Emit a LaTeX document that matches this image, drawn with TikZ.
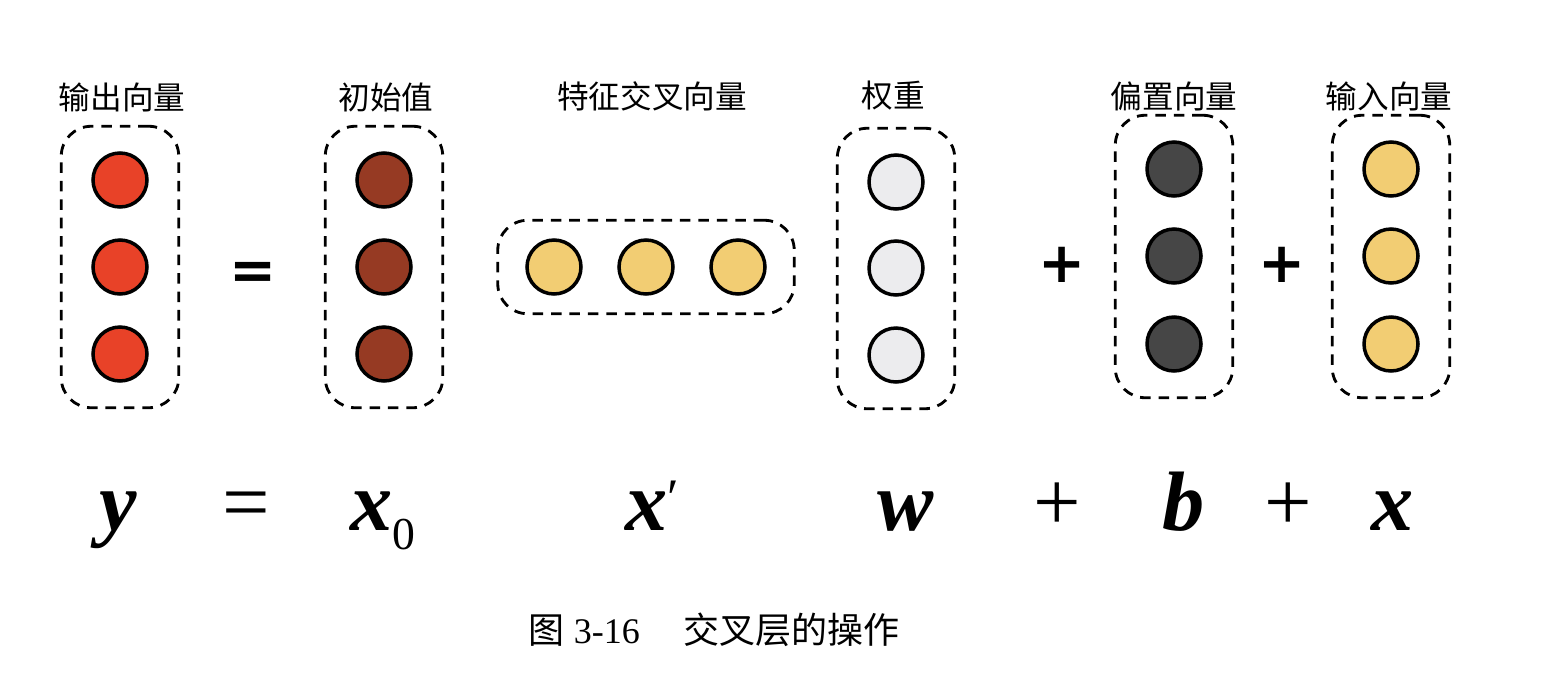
\documentclass[tikz,border=0pt]{standalone}
\usepackage{fontspec}
\setmainfont{Liberation Serif}
\newfontfamily\cjk{Noto Sans CJK SC}
\newfontfamily\opsans{DejaVu Sans}
\usetikzlibrary{positioning,fit}
\definecolor{outRed}{RGB}{232,66,40}
\definecolor{initBrown}{RGB}{150,58,35}
\definecolor{featYellow}{RGB}{242,205,115}
\definecolor{wGray}{RGB}{236,236,238}
\definecolor{biasGray}{RGB}{70,70,70}

\begin{document}
\begin{tikzpicture}[x=0.02cm, y=-0.02cm,
    unit/.style={draw, circle, line width=2pt, minimum size=1.08cm, inner sep=0pt},
    vecbox/.style={draw, dash pattern=on 6pt off 4.5pt, line width=1.6pt, rounded corners=0.6cm, inner xsep=0.6cm, inner ysep=0.5cm},
    rowbox/.style={vecbox, inner xsep=0.55cm, inner ysep=0.36cm},
    lbl/.style={font=\cjk\fontsize{18}{18}\selectfont},
    op/.style={anchor=base, font=\opsans\bfseries\fontsize{32}{32}\selectfont},
    sym/.style={anchor=base, font=\fontsize{48}{48}\selectfont}
]
\useasboundingbox (0,0) rectangle (1558,694);

% Vecteurs (colonnes et ligne)
\node[unit, fill=outRed] (y1) at (120,180) {};
\node[unit, fill=outRed] (y2) at (120,267) {};
\node[unit, fill=outRed] (y3) at (120,354) {};

\node[unit, fill=initBrown] (xz1) at (384,180) {};
\node[unit, fill=initBrown] (xz2) at (384,267) {};
\node[unit, fill=initBrown] (xz3) at (384,354) {};

\node[unit, fill=featYellow] (xp1) at (554,267) {};
\node[unit, fill=featYellow] (xp2) at (646,267) {};
\node[unit, fill=featYellow] (xp3) at (738,267) {};

\node[unit, fill=wGray] (w1) at (896,182) {};
\node[unit, fill=wGray] (w2) at (896,268) {};
\node[unit, fill=wGray] (w3) at (896,355) {};

\node[unit, fill=biasGray] (b1) at (1174,169) {};
\node[unit, fill=biasGray] (b2) at (1174,256) {};
\node[unit, fill=biasGray] (b3) at (1174,344) {};

\node[unit, fill=featYellow] (x1) at (1391,169) {};
\node[unit, fill=featYellow] (x2) at (1391,256) {};
\node[unit, fill=featYellow] (x3) at (1391,344) {};

% Cadres en pointillés
\node[vecbox, fit=(y1)(y3)] (ybox) {};
\node[vecbox, fit=(xz1)(xz3)] (xzbox) {};
\node[rowbox, fit=(xp1)(xp3)] (xpbox) {};
\node[vecbox, fit=(w1)(w3)] (wbox) {};
\node[vecbox, fit=(b1)(b3)] (bbox) {};
\node[vecbox, fit=(x1)(x3)] (xbox) {};

% Titres
\node[lbl] (ylbl) at (122,97) {输出向量};
\node[lbl] (xzlbl) at (386,97) {初始值};
\node[lbl] (xplbl) at (652,96) {特征交叉向量};
\node[lbl] (wlbl) at (893,96) {权重};
\node[lbl] (blbl) at (1174,96) {偏置向量};
\node[lbl] (xlbl) at (1389,96) {输入向量};

% Opérateurs
\node[op] (eqtop) at (253,289) {=};
\node[op] (plustopa) at (1062,282) {+};
\node[op] (plustopb) at (1282,282) {+};

% Formule
\node[sym] (ysym) at (118,530) {\textbf{\textit{y}}};
\node[sym] (eqsym) at (246,530) {=};
\node[sym] (xzsym) at (383,530) {\textbf{\textit{x}}\raisebox{-11pt}{\fontsize{26}{26}\selectfont 0}};
\node[sym] (xpsym) at (652,530) {\textbf{\textit{x}}\raisebox{8pt}{\fontsize{30}{30}\selectfont ′}};
\node[sym] (wsym) at (906,530) {\textbf{\textit{w}}};
\node[sym] (plussyma) at (1057,530) {+};
\node[sym] (bsym) at (1184,530) {\textbf{\textit{b}}};
\node[sym] (plussymb) at (1288,530) {+};
\node[sym] (xsym) at (1393,530) {\textbf{\textit{x}}};

% Légende
\node[font=\fontsize{20.5}{20.5}\selectfont] (caption) at (714,630) {{\cjk 图} 3-16\hspace{1.2em}{\cjk 交叉层的操作}};
\end{tikzpicture}
\end{document}
